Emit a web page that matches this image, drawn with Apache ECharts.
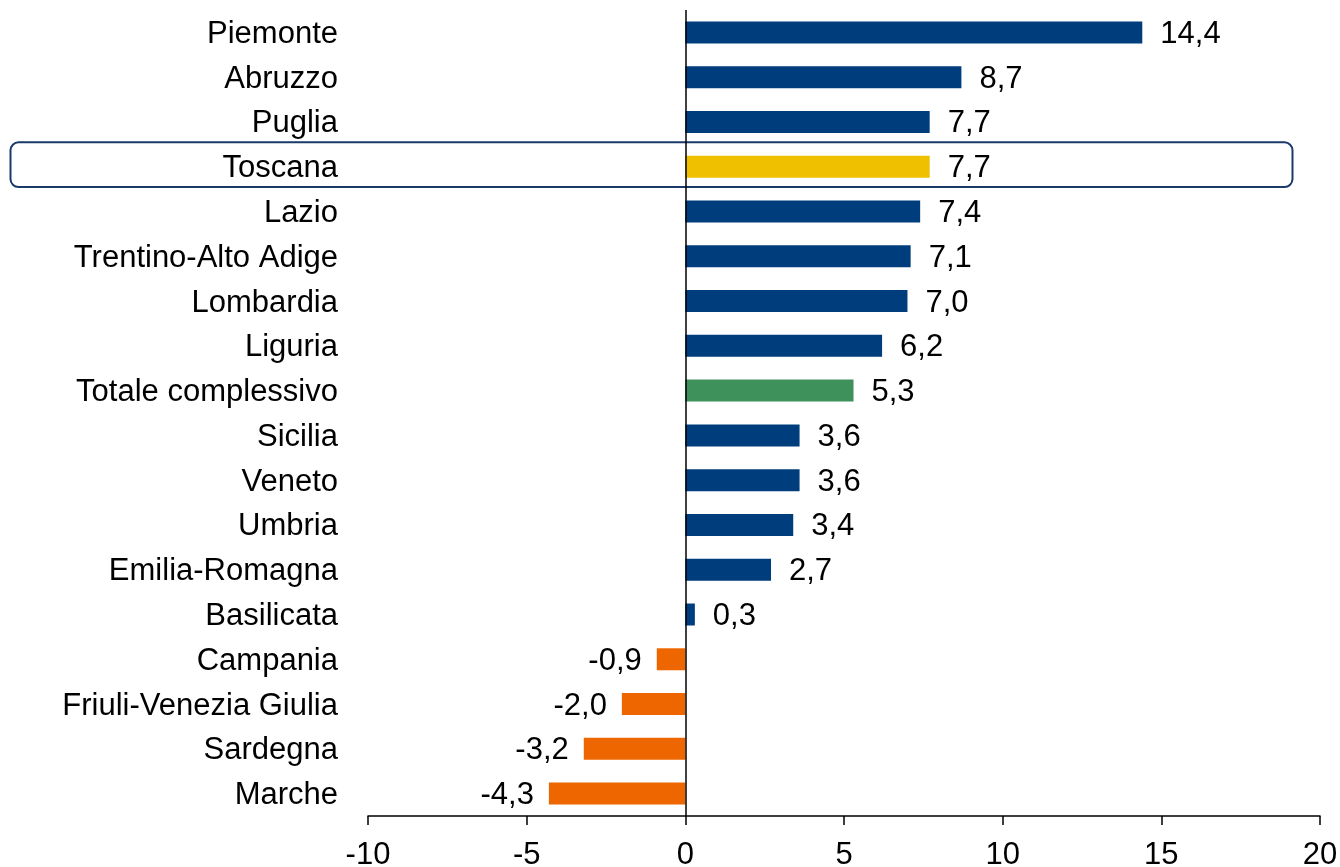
<!DOCTYPE html>
<html>
<head>
<meta charset="utf-8">
<script src="https://cdn.jsdelivr.net/npm/echarts@6/dist/echarts.min.js"></script>
<style>
html,body{margin:0;padding:0;background:#fff;}
#c{width:1340px;height:867px;}
</style>
</head>
<body>
<div id="c"></div>
<script>
const categories = ["Piemonte","Abruzzo","Puglia","Toscana","Lazio","Trentino-Alto Adige","Lombardia","Liguria","Totale complessivo","Sicilia","Veneto","Umbria","Emilia-Romagna","Basilicata","Campania","Friuli-Venezia Giulia","Sardegna","Marche"];
const values = [14.4,8.7,7.7,7.7,7.4,7.1,7.0,6.2,5.3,3.6,3.6,3.4,2.7,0.3,-0.9,-2.0,-3.2,-4.3];
const xTicks = [-10,-5,0,5,10,15,20];
const highlight = "Toscana";
const total = "Totale complessivo";

const C_POS = '#003d7c', C_NEG = '#ee6600', C_HL = '#eec000', C_TOT = '#3f915c';
const FONT = "'Liberation Sans', Arial, sans-serif";
const FS = 31;

function colorFor(cat, v){
  if (cat === highlight) return C_HL;
  if (cat === total) return C_TOT;
  return v < 0 ? C_NEG : C_POS;
}

const chart = echarts.init(document.getElementById('c'));
const option = {
  animation:false,
  backgroundColor:'#fff',
  grid:{left:368, right:20, top:10, bottom:51, containLabel:false, outerBoundsMode:'none'},
  xAxis:{
    type:'value', min:xTicks[0], max:xTicks[xTicks.length-1], interval:5,
    axisLine:{show:true, lineStyle:{color:'#000', width:1.5}},
    axisTick:{show:true, inside:false, length:9, lineStyle:{color:'#000', width:1.5}},
    axisLabel:{color:'#000', fontSize:FS, fontFamily:FONT, margin:24,
      alignMinLabel:'center', alignMaxLabel:'center', hideOverlap:false},
    splitLine:{show:false}
  },
  yAxis:{
    type:'category', data:categories, inverse:true,
    axisLine:{show:false}, axisTick:{show:false},
    axisLabel:{color:'#000', fontSize:FS, fontFamily:FONT, margin:30,
      formatter: v => '{a|' + v + '}',
      rich:{a:{fontSize:FS, fontFamily:FONT, color:'#000', padding:[4,0,0,0]}}}
  },
  series:[{
    type:'bar',
    barWidth:22,
    data: values.map((v,i)=>({value:v, itemStyle:{color:colorFor(categories[i], v)}})),
    label:{
      show:true, position:'right', distance:18, color:'#000', fontSize:FS, fontFamily:FONT,
      formatter: p => '{a|' + p.value.toFixed(1).replace('.', ',') + '}',
      rich:{a:{fontSize:FS, fontFamily:FONT, color:'#000', padding:[4,0,0,0]}}
    },
    markLine:{
      silent:true, symbol:['none','none'], label:{show:false},
      lineStyle:{color:'#000', width:1.5, type:'solid'},
      data:[{xAxis:0}]
    }
  }]
};
option.series[0].data.forEach(d=>{ if(d.value<0) d.label={position:'left', distance:15}; });
chart.setOption(option);

const yc = chart.convertToPixel({yAxisIndex:0}, highlight);
const band = 806/categories.length;
chart.setOption({
  graphic:[{
    type:'rect', z:0,
    shape:{x:10.5, y:yc - band/2 - 2, width:1282, height:band, r:8},
    style:{fill:'none', stroke:'#1a3a6a', lineWidth:2}
  }]
});
</script>
</body>
</html>
